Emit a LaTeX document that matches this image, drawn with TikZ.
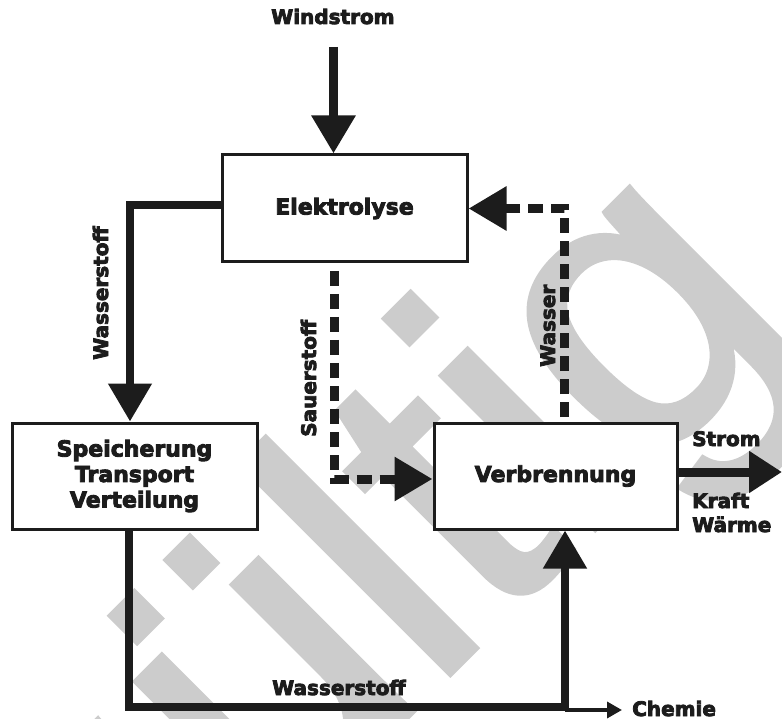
\documentclass[tikz,border=0pt]{standalone}
\usepackage{fontspec}
\setmainfont{DejaVu Sans}[BoldFeatures={FakeBold=4}]
\newfontfamily\wmfont{Liberation Sans}[FakeBold=1.5]
\usetikzlibrary{arrows.meta}
\definecolor{ink}{HTML}{1C1C1C}
\definecolor{wmgray}{HTML}{CCCCCC}
\tikzset{
  bigtip/.tip={Triangle[width=42pt,length=38pt]},
  outtip/.tip={Triangle[width=40pt,length=33pt]},
  smalltip/.tip={Triangle[width=16pt,length=15pt]},
  box/.style={draw=ink, line width=3pt, fill=white, inner sep=0pt, align=center,
    font=\fontsize{22}{25.5}\selectfont\bfseries, text=ink},
  lbl/.style={inner sep=0pt, font=\fontsize{20}{24}\selectfont\bfseries, text=ink},
  flow/.style={draw=ink, line width=9pt, -bigtip, line join=miter},
  hflow/.style={draw=ink, line width=8pt, -bigtip, line join=miter},
  dflow/.style={draw=ink, line width=9pt, dash pattern=on 15pt off 8pt, -bigtip, line join=miter},
  oflow/.style={draw=ink, line width=9pt, -outtip},
  tflow/.style={draw=ink, line width=3.5pt, -smalltip},
  wmark/.style={inner sep=0pt, text=wmgray, font=\wmfont\fontsize{410}{410}\selectfont},
}
\begin{document}
\begin{tikzpicture}[x=1pt,y=-1pt]
\useasboundingbox (0,0) rectangle (782,719);
% watermark (background)
\begin{scope}
\clip (0,0) rectangle (782,719);
\node[wmark, anchor=base west, rotate=45] (wm) at (-214,1338) {ungültig};
\end{scope}
% boxes
\node[box, minimum width=245pt, minimum height=107pt] (elek) at (344.5,208.5) {Elektrolyse};
\node[box, minimum width=245pt, minimum height=106pt] (speich) at (134.5,476) {Speicherung\\Transport\\Verteilung};
\node[box, minimum width=243pt, minimum height=106pt] (verb) at (555.5,476) {Verbrennung};
% labels
\node[lbl, anchor=base west] (lwind) at (271,24) {Windstrom};
\node[lbl, anchor=base west, rotate=90] (lh2a) at (108,360) {Wasserstoff};
\node[lbl, anchor=base west, rotate=90] (lo2) at (316,437) {Sauerstoff};
\node[lbl, anchor=base west, rotate=90] (lwa) at (555,367) {Wasser};
\node[lbl, anchor=base west] (lstrom) at (692,446) {Strom};
\node[lbl, anchor=base west] (lkraft) at (692,508) {Kraft};
\node[lbl, anchor=base west] (lwaerme) at (692,532) {Wärme};
\node[lbl, anchor=base west] (lh2b) at (272,695) {Wasserstoff};
\node[lbl, anchor=base west] (lchem) at (632,716) {Chemie};
% bend points
\coordinate (wtop) at (333.5,47);
\coordinate (h2a) at (130,205);
\coordinate (o2s) at (334.5,271);
\coordinate (o2c) at (334.5,479);
\coordinate (wa1) at (564.5,417);
\coordinate (wa2) at (564.5,208.5);
\coordinate (outend) at (782,472);
\coordinate (bc1) at (129,707);
\coordinate (bc2) at (565,707);
\coordinate (chem) at (622,710);
% connectors
\draw[flow] (wtop) -- (wtop |- elek.north);
\draw[hflow] (elek.west |- h2a) -- (h2a) -- (h2a |- speich.north);
\draw[dflow] (o2s) -- (o2c) -- (o2c -| verb.west);
\draw[dflow] (wa1) -- (wa2) -- (wa2 -| elek.east);
\draw[oflow] (verb.east |- outend) -- (outend);
\draw[hflow] (speich.south -| bc1) -- (bc1) -- (bc2) -- (bc2 |- verb.south);
\draw[tflow] (bc2 |- chem) -- (chem);
\end{tikzpicture}
\end{document}
